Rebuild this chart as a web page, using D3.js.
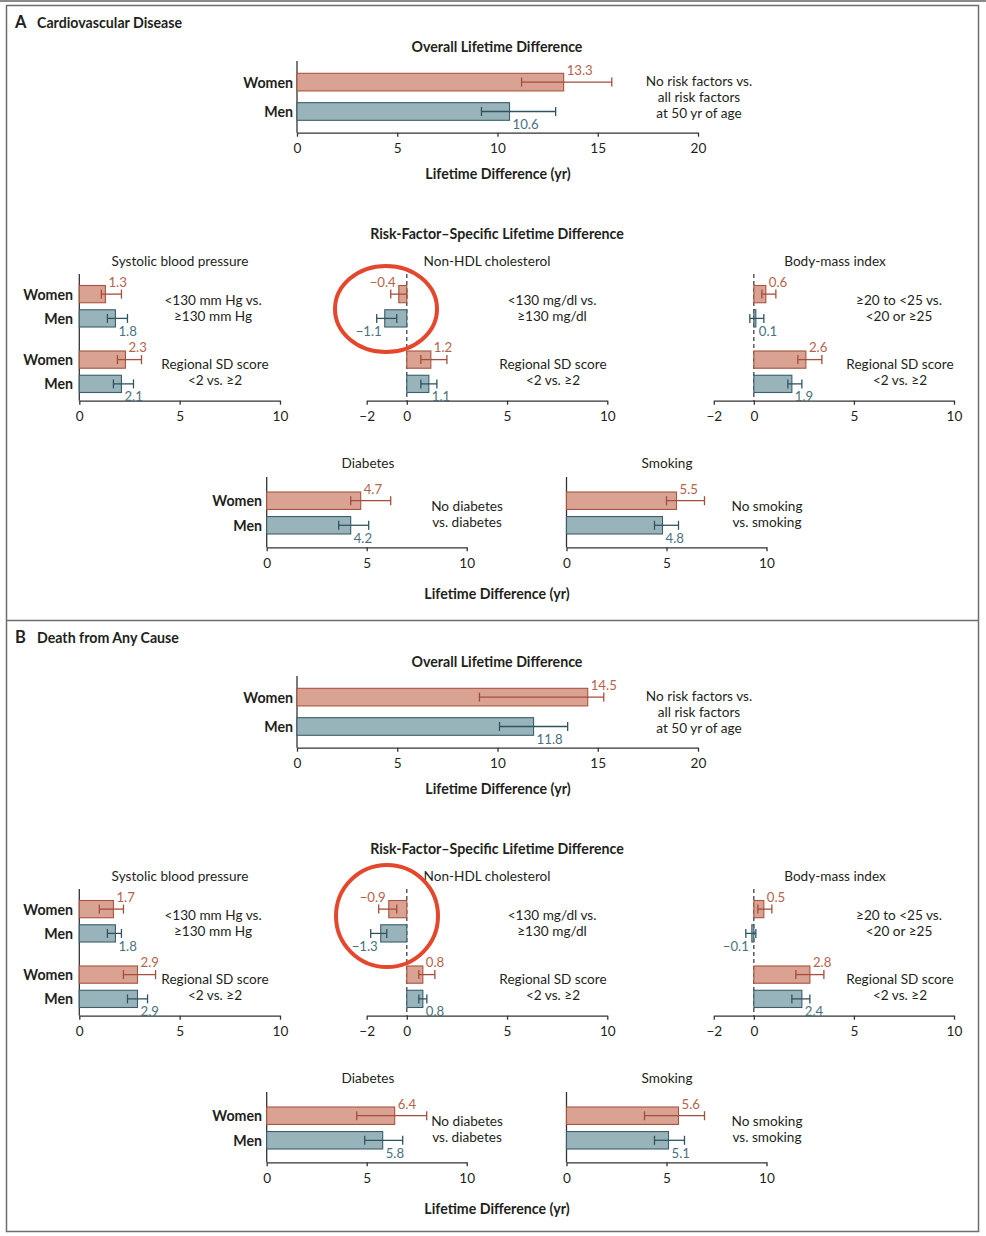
<!DOCTYPE html>
<html>
<head>
<meta charset="utf-8">
<script src="https://cdn.jsdelivr.net/npm/d3@7"></script>
<style>
  html, body { margin: 0; padding: 0; background: #fff; }
  svg { display: block; font-family: Lato, 'Open Sans', sans-serif; }
</style>
</head>
<body>
<svg id="chart" width="986" height="1236"></svg>
<script>
// ---- data (estimate, lower, upper) ----
const sexes = ['Women', 'Men'];
const overallTicks = [0, 5, 10, 15, 20];
const posTicks = [0, 5, 10];
const negTicks = [-2, 0, 5, 10];

// A — cardiovascular disease
const cvdOverall = [
  { group: 'all', sex: 'Women', est: 13.3, lo: 11.2, hi: 15.7 },
  { group: 'all', sex: 'Men', est: 10.6, lo: 9.2, hi: 12.9 },
];
const cvdSystolic = [
  { group: 'cut', sex: 'Women', est: 1.3, lo: 1.1, hi: 2.1 },
  { group: 'cut', sex: 'Men', est: 1.8, lo: 1.4, hi: 2.4 },
  { group: 'sd', sex: 'Women', est: 2.3, lo: 1.9, hi: 3.1 },
  { group: 'sd', sex: 'Men', est: 2.1, lo: 1.7, hi: 2.7 },
];
const cvdCholesterol = [
  { group: 'cut', sex: 'Women', est: -0.4, lo: -0.8, hi: 0.0 },
  { group: 'cut', sex: 'Men', est: -1.1, lo: -1.5, hi: -0.5 },
  { group: 'sd', sex: 'Women', est: 1.2, lo: 0.7, hi: 2.0 },
  { group: 'sd', sex: 'Men', est: 1.1, lo: 0.7, hi: 1.5 },
];
const cvdBmi = [
  { group: 'cut', sex: 'Women', est: 0.6, lo: 0.4, hi: 1.1 },
  { group: 'cut', sex: 'Men', est: 0.1, lo: -0.2, hi: 0.5 },
  { group: 'sd', sex: 'Women', est: 2.6, lo: 2.2, hi: 3.4 },
  { group: 'sd', sex: 'Men', est: 1.9, lo: 1.7, hi: 2.4 },
];
const cvdDiabetes = [
  { group: 'all', sex: 'Women', est: 4.7, lo: 4.2, hi: 6.2 },
  { group: 'all', sex: 'Men', est: 4.2, lo: 3.6, hi: 5.1 },
];
const cvdSmoking = [
  { group: 'all', sex: 'Women', est: 5.5, lo: 5.0, hi: 6.9 },
  { group: 'all', sex: 'Men', est: 4.8, lo: 4.4, hi: 5.6 },
];

// B — death from any cause
const deathOverall = [
  { group: 'all', sex: 'Women', est: 14.5, lo: 9.1, hi: 15.3 },
  { group: 'all', sex: 'Men', est: 11.8, lo: 10.1, hi: 13.5 },
];
const deathSystolic = [
  { group: 'cut', sex: 'Women', est: 1.7, lo: 1.0, hi: 2.2 },
  { group: 'cut', sex: 'Men', est: 1.8, lo: 1.4, hi: 2.1 },
  { group: 'sd', sex: 'Women', est: 2.9, lo: 2.2, hi: 3.8 },
  { group: 'sd', sex: 'Men', est: 2.9, lo: 2.4, hi: 3.4 },
];
const deathCholesterol = [
  { group: 'cut', sex: 'Women', est: -0.9, lo: -1.4, hi: -0.5 },
  { group: 'cut', sex: 'Men', est: -1.3, lo: -1.8, hi: -1.0 },
  { group: 'sd', sex: 'Women', est: 0.8, lo: 0.6, hi: 1.4 },
  { group: 'sd', sex: 'Men', est: 0.8, lo: 0.6, hi: 1.0 },
];
const deathBmi = [
  { group: 'cut', sex: 'Women', est: 0.5, lo: 0.2, hi: 0.9 },
  { group: 'cut', sex: 'Men', est: -0.1, lo: -0.4, hi: 0.1 },
  { group: 'sd', sex: 'Women', est: 2.8, lo: 2.1, hi: 3.5 },
  { group: 'sd', sex: 'Men', est: 2.4, lo: 1.9, hi: 2.8 },
];
const deathDiabetes = [
  { group: 'all', sex: 'Women', est: 6.4, lo: 4.5, hi: 8.0 },
  { group: 'all', sex: 'Men', est: 5.8, lo: 4.9, hi: 6.8 },
];
const deathSmoking = [
  { group: 'all', sex: 'Women', est: 5.6, lo: 3.9, hi: 6.9 },
  { group: 'all', sex: 'Men', est: 5.1, lo: 4.4, hi: 5.9 },
];

// comparison notes
const overallNote = ['No risk factors vs.', 'all risk factors', 'at 50 yr of age'];
const systolicNote = ['<130 mm Hg vs.', '≥130 mm Hg'];
const cholesterolNote = ['<130 mg/dl vs.', '≥130 mg/dl'];
const bmiNote = ['≥20 to <25 vs.', '<20 or ≥25'];
const regionalNote = ['Regional SD score', '<2 vs. ≥2'];
const diabetesNote = ['No diabetes', 'vs. diabetes'];
const smokingNote = ['No smoking', 'vs. smoking'];

// ---- styling ----
const COLORS = {
  Women: { fill: '#d9a292', stroke: '#a8543f', err: '#a44d38', text: '#b5624d' },
  Men: { fill: '#99b3bb', stroke: '#3b5e6a', err: '#2e5461', text: '#48717e' },
};
const INK = '#231f20';
const FS = 13.6;      // regular text
const FS_BOLD = 14.2; // bold headings
const fmt = v => d3.format('.1f')(v).replace('-', '\u2212');

const svg = d3.select('#chart');

// frame
svg.append('line').attr('x1', 0).attr('x2', 986).attr('y1', 1).attr('y2', 1)
  .attr('stroke', '#8a8a8a').attr('stroke-width', 2);
svg.append('rect').attr('x', 6.5).attr('y', 5.5).attr('width', 972).attr('height', 1226)
  .attr('fill', 'none').attr('stroke', '#6e6e6e').attr('stroke-width', 1.5);
svg.append('line').attr('x1', 6.5).attr('x2', 978.5).attr('y1', 620.5).attr('y2', 620.5)
  .attr('stroke', '#6e6e6e').attr('stroke-width', 1.5);

function text(g, x, y, str, opts = {}) {
  return g.append('text')
    .attr('x', x).attr('y', y)
    .attr('dominant-baseline', 'central')
    .attr('text-anchor', opts.anchor || 'middle')
    .attr('font-size', opts.size || (opts.bold ? FS_BOLD : FS))
    .attr('font-weight', opts.bold ? 700 : 400)
    .attr('fill', opts.fill || INK)
    .text(str);
}

function noteBlock(g, x, ys, lines) {
  lines.forEach((l, i) => text(g, x, ys[i], l));
}

// one small bar panel with error bars
function barPanel(parent, cfg) {
  const g = parent.append('g');
  const x = d3.scaleLinear().domain(cfg.domain).range(cfg.range);
  const groups = Array.from(new Set(cfg.data.map(d => d.group)));
  const groupY = d3.scaleBand().domain(groups).range(cfg.band).paddingInner(cfg.groupPad || 0);
  const sexY = d3.scaleBand().domain(sexes).range([0, groupY.bandwidth()]).paddingInner(cfg.sexPad);
  const y = d => groupY(d.group) + sexY(d.sex);
  const bh = sexY.bandwidth();

  if (cfg.title) text(g, cfg.title[1], cfg.title[2], cfg.title[0]);

  // x axis
  const axis = g.append('g')
    .attr('transform', `translate(0,${cfg.axisY})`)
    .call(d3.axisBottom(x).tickValues(cfg.ticks).tickSize(4).tickSizeOuter(0).tickPadding(7)
      .tickFormat(d => d < 0 ? '\u2212' + Math.abs(d) : d));
  axis.select('.domain').attr('stroke', '#333').attr('stroke-width', 1.3);
  axis.selectAll('.tick line').attr('stroke', '#333').attr('stroke-width', 1.3);
  axis.selectAll('.tick text').attr('font-size', FS).attr('fill', INK)
    .attr('font-family', 'Lato, sans-serif');

  // zero line
  const zl = g.append('line')
    .attr('x1', x(0)).attr('x2', x(0))
    .attr('y1', cfg.topY).attr('y2', cfg.axisY)
    .attr('stroke', '#333').attr('stroke-width', 1.3);
  if (cfg.dashed) zl.attr('stroke-dasharray', '4,3').attr('stroke-width', 1.2);

  // bars
  g.selectAll('rect.bar').data(cfg.data).join('rect')
    .attr('class', 'bar')
    .attr('x', d => Math.min(x(0), x(d.est)))
    .attr('width', d => Math.max(Math.abs(x(d.est) - x(0)), 1.5))
    .attr('y', d => y(d))
    .attr('height', bh)
    .attr('fill', d => COLORS[d.sex].fill)
    .attr('stroke', d => COLORS[d.sex].stroke)
    .attr('stroke-width', 1.1);

  // error bars
  const eb = g.selectAll('g.err').data(cfg.data).join('g').attr('class', 'err')
    .attr('stroke', d => COLORS[d.sex].err).attr('stroke-width', 1.3);
  eb.append('line')
    .attr('x1', d => x(d.lo)).attr('x2', d => x(d.hi))
    .attr('y1', d => y(d) + bh / 2).attr('y2', d => y(d) + bh / 2);
  eb.append('line')
    .attr('x1', d => x(d.lo)).attr('x2', d => x(d.lo))
    .attr('y1', d => y(d) + bh / 2 - 4.5).attr('y2', d => y(d) + bh / 2 + 4.5);
  eb.append('line')
    .attr('x1', d => x(d.hi)).attr('x2', d => x(d.hi))
    .attr('y1', d => y(d) + bh / 2 - 4.5).attr('y2', d => y(d) + bh / 2 + 4.5);

  // value labels: women above, men below the bar end
  g.selectAll('text.val').data(cfg.data).join('text')
    .attr('class', 'val')
    .attr('x', d => d.est < 0 ? x(d.est) - 3 : x(d.est) + 3)
    .attr('y', d => d.sex === 'Women' ? y(d) - 3.5 : y(d) + bh + 3.5)
    .attr('dominant-baseline', 'central')
    .attr('text-anchor', d => d.est < 0 ? 'end' : 'start')
    .attr('font-size', 13.2)
    .attr('fill', d => COLORS[d.sex].text)
    .text(d => fmt(d.est));

  // sex labels
  if (cfg.sexLabelX) {
    g.selectAll('text.sex').data(cfg.data).join('text')
      .attr('class', 'sex')
      .attr('x', cfg.sexLabelX)
      .attr('y', d => y(d) + bh / 2)
      .attr('dominant-baseline', 'central')
      .attr('text-anchor', 'end')
      .attr('font-size', FS_BOLD)
      .attr('font-weight', 700)
      .attr('fill', INK)
      .text(d => d.sex);
  }
}

function section(g, letter, name, d) {
  text(g, 15, 22, letter, { anchor: 'start', size: 16.5, bold: true });
  text(g, 37, 22.5, name, { anchor: 'start', bold: true });

  // overall
  text(g, 497, 46, 'Overall Lifetime Difference', { bold: true });
  barPanel(g, {
    data: d.overall, domain: [0, 20], range: [297, 698], ticks: overallTicks,
    band: [73.3, 120.3], sexPad: 0.4, topY: 61, axisY: 132.7, sexLabelX: 293,
  });
  noteBlock(g, 699, [81, 96.5, 112.5], overallNote);
  text(g, 498, 173, 'Lifetime Difference (yr)', { bold: true });

  // risk-factor specific
  text(g, 497, 233, 'Risk-Factor\u2013Specific Lifetime Difference', { bold: true });
  const rf = { band: [285.5, 392.5], groupPad: 0.366, sexPad: 0.29, topY: 274, axisY: 400.7 };
  barPanel(g, Object.assign({}, rf, {
    data: d.systolic, domain: [0, 10], range: [79.3, 280], ticks: posTicks,
    title: ['Systolic blood pressure', 180, 261], sexLabelX: 73,
  }));
  noteBlock(g, 213, [300, 315.5], systolicNote);
  noteBlock(g, 215, [363.5, 380], regionalNote);

  barPanel(g, Object.assign({}, rf, {
    data: d.cholesterol, domain: [-2, 10], range: [366.7, 607.3], ticks: negTicks,
    title: ['Non-HDL cholesterol', 487, 261], dashed: true,
  }));
  noteBlock(g, 552, [300, 315.5], cholesterolNote);
  noteBlock(g, 553, [363.5, 380], regionalNote);

  barPanel(g, Object.assign({}, rf, {
    data: d.bmi, domain: [-2, 10], range: [713.8, 954], ticks: negTicks,
    title: ['Body-mass index', 835, 261], dashed: true,
  }));
  noteBlock(g, 899, [300, 315.5], bmiNote);
  noteBlock(g, 900, [363.5, 380], regionalNote);

  // diabetes and smoking
  const ds = { band: [492, 534], sexPad: 0.29, topY: 477, axisY: 547.3, ticks: posTicks, domain: [0, 10] };
  barPanel(g, Object.assign({}, ds, {
    data: d.diabetes, range: [266.7, 466.7], title: ['Diabetes', 368, 463], sexLabelX: 262,
  }));
  noteBlock(g, 467, [506, 521.7], diabetesNote);
  barPanel(g, Object.assign({}, ds, {
    data: d.smoking, range: [566.5, 766.5], title: ['Smoking', 667, 463],
  }));
  noteBlock(g, 767, [506, 521.7], smokingNote);
  text(g, 497, 593, 'Lifetime Difference (yr)', { bold: true });

  // highlight circle around the cholesterol cut-off bars
  g.append('ellipse')
    .attr('cx', d.circle[0]).attr('cy', d.circle[1])
    .attr('rx', d.circle[2]).attr('ry', d.circle[3])
    .attr('fill', 'none').attr('stroke', '#e4472c').attr('stroke-width', 4);
}

section(svg.append('g'), 'A', 'Cardiovascular Disease', {
  overall: cvdOverall, systolic: cvdSystolic, cholesterol: cvdCholesterol,
  bmi: cvdBmi, diabetes: cvdDiabetes, smoking: cvdSmoking,
  circle: [386, 309, 51, 43],
});
section(svg.append('g').attr('transform', 'translate(0,615)'), 'B', 'Death from Any Cause', {
  overall: deathOverall, systolic: deathSystolic, cholesterol: deathCholesterol,
  bmi: deathBmi, diabetes: deathDiabetes, smoking: deathSmoking,
  circle: [387, 301, 51, 51],
});
</script>
</body>
</html>
